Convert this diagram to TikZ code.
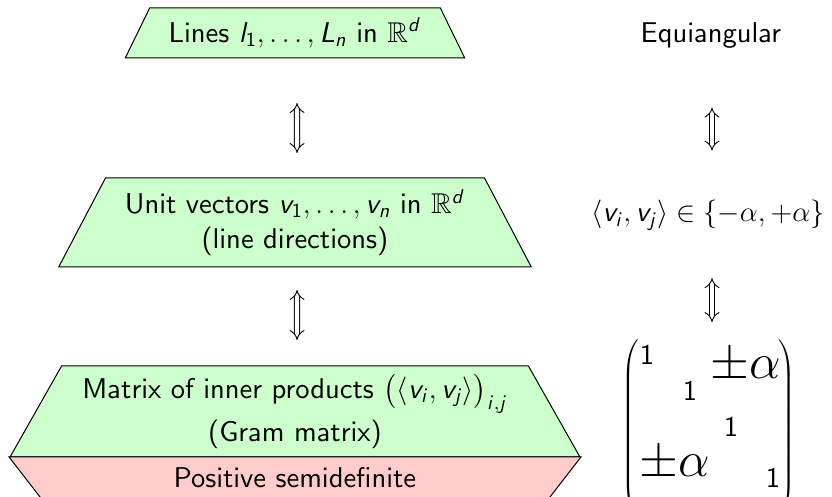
\RequirePackage{fix-cm}
\documentclass[tikz,border=0pt]{standalone}
\usepackage{amsmath,amssymb}
\usetikzlibrary{shapes.geometric,arrows.meta}
\DeclareFontFamily{OT1}{cmssx}{}
\DeclareFontShape{OT1}{cmssx}{m}{n}{<-> cmss10}{}
\DeclareFontShape{OT1}{cmssx}{m}{sl}{<-> cmssi10}{}
\DeclareSymbolFont{sfit}{OT1}{cmssx}{m}{sl}
\DeclareSymbolFont{sfup}{OT1}{cmssx}{m}{n}
\DeclareMathSymbol{l}{\mathalpha}{sfit}{`l}
\DeclareMathSymbol{L}{\mathalpha}{sfit}{`L}
\DeclareMathSymbol{n}{\mathalpha}{sfit}{`n}
\DeclareMathSymbol{d}{\mathalpha}{sfit}{`d}
\DeclareMathSymbol{v}{\mathalpha}{sfit}{`v}
\DeclareMathSymbol{i}{\mathalpha}{sfit}{`i}
\DeclareMathSymbol{j}{\mathalpha}{sfit}{`j}
\DeclareMathSymbol{1}{\mathalpha}{sfup}{`1}
\newcommand{\sfx}{\fontencoding{OT1}\fontfamily{cmssx}\selectfont}
\begin{document}
\begin{tikzpicture}[x=0.5pt,y=-0.5pt,
  base/.style={font=\fontsize{14.3}{17.5}\sfx},
  box/.style={base, draw=black, line width=0.5pt, trapezium, trapezium angle=60,
    trapezium stretches=true, inner sep=2pt, outer sep=0pt, align=center},
  greenbox/.style={box, fill=green!20},
  redbox/.style={box, fill=red!20, shape border rotate=180},
  eqarrow/.style={double, double distance=2.2pt, line width=0.45pt, {Implies}-{Implies}},
  plain/.style={base, inner sep=0pt, outer sep=0pt},
  bigpm/.style={inner sep=0pt, outer sep=0pt, font=\fontsize{25}{30}\selectfont},
  paren/.style={inner sep=0pt, outer sep=0pt, anchor=north}]
\useasboundingbox (0,0) rectangle (832,497);
% left column
\node[greenbox, minimum width=170pt, minimum height=25pt] (lines) at (295,33)
  {Lines $l_1, \ldots, L_n$ in $\mathbb{R}^d$};
\node[greenbox, minimum width=237pt, minimum height=44.5pt] (unit) at (295,222.5)
  {Unit vectors $v_1, \ldots, v_n$ in $\mathbb{R}^d$\\(line directions)};
\node[greenbox, minimum width=286pt, minimum height=45.5pt] (gramtext) at (295,411.5)
  {Matrix of inner products $\big(\langle v_i, v_j\rangle\big)_{i,j}$\\[2.5pt](Gram matrix)};
\node[redbox, minimum width=286pt, minimum height=21pt] (psd) at (295,478)
  {Positive semidefinite};
\draw[eqarrow, shorten <=22.5pt, shorten >=12.5pt] ([xshift=1pt]lines.south) -- ([xshift=1pt]unit.north);
\draw[eqarrow, shorten <=11.5pt, shorten >=13pt] ([xshift=1pt]unit.south) -- ([xshift=1pt]gramtext.north);
% right column
\node[plain, anchor=base] (equi) at (711,43) {Equiangular};
\node[plain, anchor=base] (inner) at (708,222) {$\langle v_i, v_j\rangle \in \{-\alpha, +\alpha\}$};
% matrix
\node[paren] (lpar) at (631,340) {$\left(\vrule height 45pt depth 45pt width 0pt\right.$};
\node[paren] (rpar) at (786,340) {$\left.\vrule height 45pt depth 45pt width 0pt\right)$};
\node[plain, anchor=base] (d1) at (647,365) {1};
\node[plain, anchor=base] (d2) at (690,401) {1};
\node[plain, anchor=base] (d3) at (731,437) {1};
\node[plain, anchor=base] (d4) at (773,488) {1};
\node[bigpm, anchor=base] (pa1) at (746,379) {$\pm\alpha$};
\node[bigpm, anchor=base] (pa2) at (675,477) {$\pm\alpha$};
\draw[eqarrow, shorten <=29.5pt, shorten >=25pt] ([xshift=0.5pt]equi.south) -- ([xshift=0.5pt]inner.north -| equi.south);
\draw[eqarrow, shorten <=24pt, shorten >=9pt] ([xshift=0.5pt]inner.south -| equi.south) -- ([xshift=0.5pt]lpar.north -| equi.south);
\end{tikzpicture}
\end{document}
